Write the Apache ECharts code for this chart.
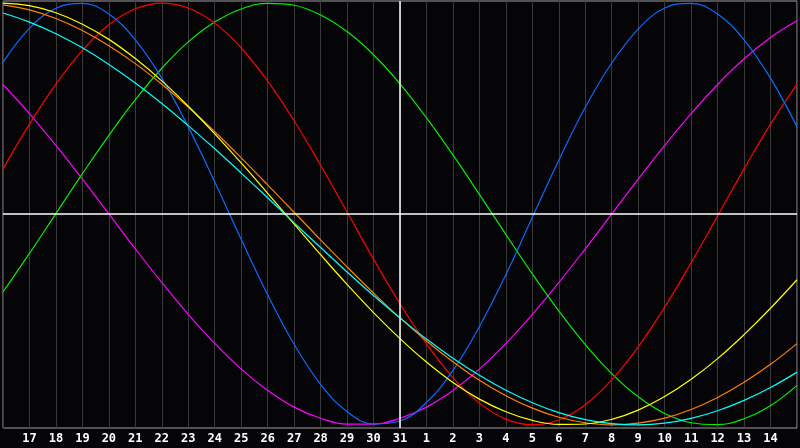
<!DOCTYPE html>
<html>
<head>
<meta charset="utf-8">
<script src="https://cdn.jsdelivr.net/npm/echarts@6/dist/echarts.min.js"></script>
<style>
  html, body { margin: 0; padding: 0; background: #050508; }
  #chart { width: 800px; height: 448px; }
</style>
</head>
<body>
<div id="chart"></div>
<script>
// day labels along the bottom, first and last sit on the border and are not drawn
const days = ['16', '17', '18', '19', '20', '21', '22', '23', '24', '25', '26', '27', '28', '29', '30', '31',
  '1', '2', '3', '4', '5', '6', '7', '8', '9', '10', '11', '12', '13', '14', '15'];
const today = '31';

// curve values per day, -100 .. 100
const blue = [71.9, 88.0, 97.6, 99.9, 94.8, 82.6, 64.4, 41.3, 15.2, -12.0, -38.3, -61.8, -80.8, -93.7, -99.6, -98.2,
  -89.4, -74.2, -53.4, -28.8, -1.6, 25.5, 50.6, 71.6, 87.7, 97.7, 99.9, 94.8, 82.6, 64.4, 41.3];
const red = [21.4, 42.6, 61.6, 77.6, 89.7, 97.3, 100.0, 97.7, 90.5, 78.7, 63.0, 44.2, 23.1, 0.9, -21.4, -42.6,
  -61.6, -77.6, -89.7, -97.3, -100.0, -97.7, -90.5, -78.7, -63.0, -44.2, -23.1, -0.9, 21.4, 42.6, 61.6];
const green = [-37.0, -18.7, 0.2, 19.1, 37.3, 54.2, 69.1, 81.6, 91.0, 97.2, 99.9, 99.0, 94.4, 86.5, 75.5, 61.7,
  45.6, 28.0, 9.3, -9.7, -28.4, -46.0, -62.0, -75.7, -86.7, -94.6, -99.0, -99.9, -97.1, -90.9, -81.3];
const magenta = [61.4, 47.6, 32.5, 16.5, 0, -16.5, -32.5, -47.6, -61.4, -73.6, -83.7, -91.6, -96.9, -99.7, -99.7, -96.9,
  -91.6, -83.7, -73.6, -61.4, -47.6, -32.5, -16.5, 0, 16.5, 32.5, 47.6, 61.4, 73.6, 83.7, 91.6];
const yellow = [100.0, 98.8, 95.4, 90.0, 82.8, 73.7, 63.1, 51.1, 38.0, 24.2, 9.8, -4.8, -19.3, -33.4, -46.8, -59.1,
  -70.2, -79.9, -87.8, -93.8, -97.9, -99.8, -99.6, -97.4, -93.0, -86.6, -78.4, -68.6, -57.2, -44.7, -31.2];
const orange = [99.2, 96.8, 92.7, 87.0, 79.8, 71.3, 61.5, 50.7, 39.0, 26.6, 13.8, 0.8, -12.3, -25.1, -37.5, -49.3,
  -60.2, -70.1, -78.9, -86.2, -92.1, -96.4, -99.0, -100.0, -99.2, -96.8, -92.7, -87.0, -79.8, -71.3, -61.5];
const cyan = [95.3, 91.0, 85.5, 78.8, 70.9, 62.1, 52.4, 41.9, 30.9, 19.4, 7.7, -4.2, -15.9, -27.5, -38.7, -49.3,
  -59.3, -68.4, -76.5, -83.6, -89.5, -94.2, -97.5, -99.4, -100.0, -99.2, -96.9, -93.3, -88.4, -82.3, -75.0];

const curves = [
  { data: magenta, color: '#ff00ff' },
  { data: green, color: '#00f000' },
  { data: red, color: '#ff0000' },
  { data: blue, color: '#0a6cff' },
  { data: orange, color: '#ff8000' },
  { data: yellow, color: '#ffff00' },
  { data: cyan, color: '#00ffff' }
];

let series = curves.map((c) => ({
  type: 'line',
  data: c.data,
  smooth: 0.4,
  showSymbol: false,
  silent: true,
  lineStyle: { color: c.color, width: 1.2 },
  z: 3
}));

// white cross through today and the zero level
series.push({
  type: 'line',
  data: [],
  silent: true,
  markLine: {
    silent: true,
    symbol: 'none',
    animation: false,
    label: { show: false },
    lineStyle: { color: '#ffffff', type: 'solid', width: 1.5 },
    data: [{ yAxis: 0 }, { xAxis: today }]
  },
  z: 2
});

let chart = echarts.init(document.getElementById('chart'));
chart.setOption({
  backgroundColor: '#050508',
  animation: false,
  grid: {
    left: 1, right: 1, top: 1, bottom: 20,
    show: true,
    borderColor: '#a0a0a0',
    borderWidth: 1,
    backgroundColor: 'transparent'
  },
  xAxis: {
    type: 'category',
    data: days,
    boundaryGap: false,
    axisLine: { show: false },
    axisTick: { show: false },
    axisLabel: {
      interval: 0,
      margin: 5,
      color: '#ffffff',
      fontFamily: 'DejaVu Sans Mono',
      fontWeight: 'bold',
      fontSize: 12,
      formatter: (v, i) => (i === 0 || i === days.length - 1) ? '' : v
    },
    splitLine: { show: true, interval: 0, lineStyle: { color: '#3a3a3c', width: 1 } }
  },
  yAxis: {
    type: 'value',
    min: -101.5,
    max: 101,
    axisLine: { show: false },
    axisTick: { show: false },
    axisLabel: { show: false },
    splitLine: { show: false }
  },
  series: series
});
</script>
</body>
</html>
